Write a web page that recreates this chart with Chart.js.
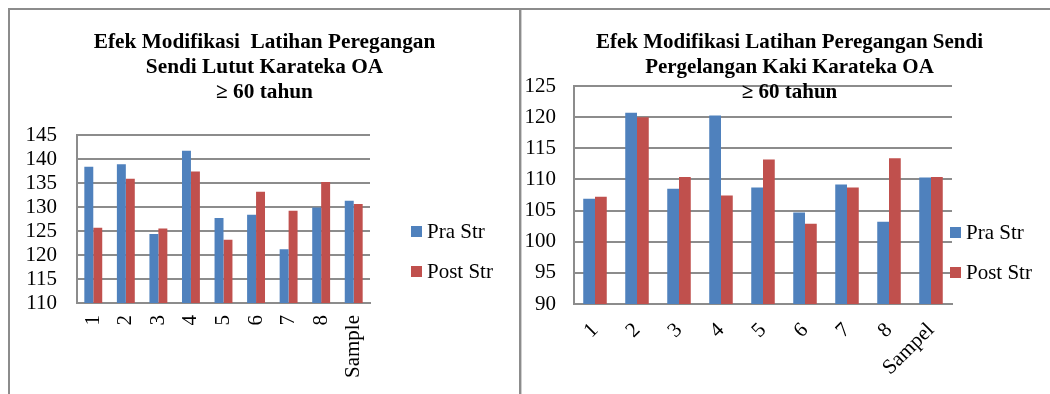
<!DOCTYPE html>
<html>
<head>
<meta charset="utf-8">
<script src="https://cdn.jsdelivr.net/npm/chart.js@4/dist/chart.umd.min.js"></script>
<style>
  html, body { margin: 0; padding: 0; background: #fff; }
  body { width: 1050px; height: 394px; position: relative; overflow: hidden; }
  canvas { position: absolute; top: 0; }
  #knee { left: 0; }
  #ankle { left: 521px; }
  .rule { position: absolute; background: #8c8c8c; }
</style>
</head>
<body>
<div class="rule" style="left:8px;top:8px;width:1042px;height:2px"></div>
<div class="rule" style="left:8px;top:8px;width:2px;height:386px"></div>
<div class="rule" style="left:519px;top:8px;width:2px;height:386px"></div>
<div class="rule" style="left:521px;top:10px;width:1px;height:384px;background:#cfcfcf"></div>
<canvas id="knee" width="519" height="394"></canvas>
<canvas id="ankle" width="529" height="394"></canvas>
<script>
// Series labels shared by both panels
const seriesNames = ['Pra Str', 'Post Str'];
const seriesColors = ['#4F81BD', '#C0504D'];

// Knee joint (Sendi Lutut) panel
const kneeCategories = ['1', '2', '3', '4', '5', '6', '7', '8', 'Sample'];
const kneePra  = [138.4, 138.9, 124.4, 141.7, 127.7, 128.4, 121.2, 129.9, 131.3];
const kneePost = [125.7, 135.9, 125.5, 137.4, 123.2, 133.2, 129.2, 135.2, 130.6];
const kneeTitle = ['Efek Modifikasi  Latihan Peregangan', 'Sendi Lutut Karateka OA', '\u2265 60 tahun'];
const kneeYTicks = [110, 145, 5];

// Ankle joint (Sendi Pergelangan Kaki) panel
const ankleCategories = ['1', '2', '3', '4', '5', '6', '7', '8', 'Sampel'];
const anklePra  = [106.9, 120.7, 108.5, 120.25, 108.7, 104.7, 109.2, 103.2, 110.3];
const anklePost = [107.2, 120.0, 110.4, 107.4, 113.2, 102.9, 108.7, 113.4, 110.4];
const ankleTitle = ['Efek Modifikasi Latihan Peregangan Sendi', 'Pergelangan Kaki Karateka OA', '\u2265 60 tahun'];
const ankleYTicks = [90, 125, 5];

const FONT = '"Liberation Serif", "Times New Roman", serif';
const GRID = '#8c8c8c';

// Draws the multi-line title and the side legend on top of the chart
function overlay(cfg) {
  return {
    id: 'overlay',
    afterDraw(chart) {
      const ctx = chart.ctx;
      ctx.save();
      ctx.fillStyle = '#000';
      ctx.font = 'bold ' + cfg.titleSize + 'px ' + FONT;
      ctx.textAlign = 'center';
      ctx.textBaseline = 'alphabetic';
      cfg.title.forEach((line, i) => ctx.fillText(line, cfg.titleX, cfg.titleY + i * 25));
      ctx.font = '21px ' + FONT;
      ctx.textAlign = 'left';
      chart.data.datasets.forEach((ds, i) => {
        const y = cfg.legendY + i * 40;
        ctx.fillStyle = ds.backgroundColor;
        ctx.fillRect(cfg.legendX, y, 11, 11);
        ctx.fillStyle = '#000';
        ctx.fillText(ds.label, cfg.legendX + 16, y + 12);
      });
      ctx.restore();
    }
  };
}

function makeChart(id, cats, pra, post, yTicks, geo) {
  return new Chart(document.getElementById(id), {
    type: 'bar',
    data: {
      labels: cats,
      datasets: [
        { label: seriesNames[0], data: pra, backgroundColor: seriesColors[0] },
        { label: seriesNames[1], data: post, backgroundColor: seriesColors[1] }
      ]
    },
    options: {
      responsive: false,
      animation: false,
      devicePixelRatio: 1,
      layout: { padding: geo.padding },
      datasets: { bar: { categoryPercentage: geo.catPct, barPercentage: 1 } },
      plugins: { legend: { display: false }, title: { display: false }, tooltip: { enabled: false } },
      scales: {
        x: {
          grid: { display: false, drawTicks: false },
          border: { color: GRID, width: 2 },
          ticks: {
            autoSkip: false,
            minRotation: geo.rot, maxRotation: geo.rot,
            padding: geo.xPad,
            color: '#000',
            font: { family: FONT, size: 21 }
          },
          afterFit(s) { s.height = geo.xH; }
        },
        y: {
          min: yTicks[0], max: yTicks[1],
          grid: { color: GRID, lineWidth: 2, drawTicks: false },
          border: { color: GRID, width: 2 },
          ticks: {
            autoSkip: false,
            stepSize: yTicks[2],
            padding: geo.yPad,
            color: '#000',
            font: { family: FONT, size: 21 }
          },
          afterFit(s) { s.width = geo.yW; }
        }
      }
    },
    plugins: [overlay(geo.overlay)]
  });
}

makeChart('knee', kneeCategories, kneePra, kneePost, kneeYTicks, {
  padding: { top: 135, right: 149, bottom: 11, left: 0 },
  catPct: 0.55, rot: 90, xPad: 12, xH: 80, yW: 77, yPad: 20,
  overlay: { title: kneeTitle, titleSize: 21.3, titleX: 264.5, titleY: 48, legendX: 411, legendY: 226 }
});

makeChart('ankle', ankleCategories, anklePra, anklePost, ankleYTicks, {
  padding: { top: 86, right: 98, bottom: 20, left: 0 },
  catPct: 0.56, rot: 45, xPad: 14, xH: 70, yW: 53, yPad: 18,
  overlay: { title: ankleTitle, titleSize: 21, titleX: 268.5, titleY: 48, legendX: 429, legendY: 227 }
});
</script>
</body>
</html>
